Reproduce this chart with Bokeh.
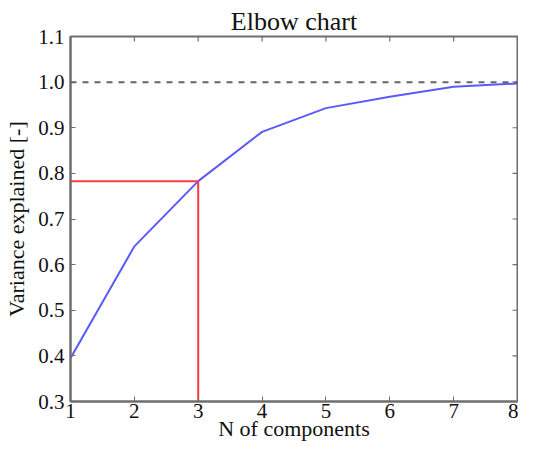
import math
from bokeh.plotting import figure
from bokeh.models import Span, Range1d, FixedTicker, PrintfTickFormatter
from bokeh.embed import file_html
from bokeh.resources import INLINE

n_components = [1, 2, 3, 4, 5, 6, 7, 8]
variance = [0.395, 0.640, 0.783, 0.891, 0.943, 0.968, 0.990, 0.997]
threshold = 1.0
elbow_n = 3
y_ticks = [0.3, 0.4, 0.5, 0.6, 0.7, 0.8, 0.9, 1.0, 1.1]

FONT = "Liberation Serif"
FRAME = "#6e6e6e"

p = figure(width=518, height=443, output_backend="svg", toolbar_location=None,
           x_range=Range1d(1, 8), y_range=Range1d(0.3, 1.1),
           title="Elbow chart", x_axis_label="N of components",
           y_axis_label="Variance explained [-]",
           min_border_left=70, min_border_right=1, min_border_top=36, min_border_bottom=0)

p.title.align = "center"
p.title.text_font = FONT
p.title.text_font_size = "26px"
p.title.text_font_style = "normal"
p.title.text_color = "#111111"
p.title.standoff = 2

p.grid.visible = False
p.outline_line_color = FRAME
p.outline_line_width = 2
p.background_fill_color = "white"
p.border_fill_color = "white"

for ax in p.axis:
    ax.major_label_text_font = FONT
    ax.major_label_text_font_size = "21px"
    ax.major_label_text_color = "#111111"
    ax.axis_label_text_font = FONT
    ax.axis_label_text_font_size = "22px"
    ax.axis_label_text_font_style = "normal"
    ax.axis_label_text_color = "#111111"
    ax.major_tick_in = 5
    ax.major_tick_out = 0
    ax.minor_tick_line_color = None
    ax.axis_line_color = FRAME
    ax.axis_line_width = 2
    ax.major_tick_line_color = FRAME

p.xaxis.ticker = FixedTicker(ticks=n_components)
p.yaxis.ticker = FixedTicker(ticks=y_ticks)
p.yaxis.formatter = PrintfTickFormatter(format="%.1f")
p.xaxis.major_label_standoff = 2
p.yaxis.major_label_standoff = 6
p.xaxis.axis_label_standoff = -5
p.yaxis.axis_label_standoff = 6
# let the end labels overhang the frame like the reference (no extra inset)
p.xaxis.major_label_text_align = "center"

# inward ticks on top and right edges (markers centred on the frame edge; outer half clipped)
p.scatter(n_components, [p.y_range.end] * len(n_components), marker="dash",
          angle=math.pi / 2, size=10, line_color=FRAME, line_width=1.2)
p.scatter([p.x_range.end] * len(y_ticks), y_ticks, marker="dash",
          size=10, line_color=FRAME, line_width=1.2)

p.add_layout(Span(location=threshold, dimension="width", line_color="#666666",
                  line_dash="6 6", line_width=2))

p.line(n_components, variance, line_color="#5a5aff", line_width=2)

ei = n_components.index(elbow_n)
p.line([n_components[0], elbow_n, elbow_n], [variance[ei], variance[ei], p.y_range.start],
       line_color="#ff3b3b", line_width=2)

open("out.html", "w").write(file_html(p, INLINE))
